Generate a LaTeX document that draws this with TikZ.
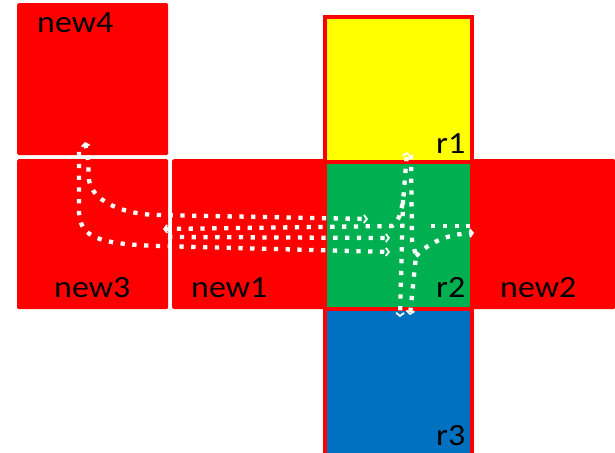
\documentclass[tikz,border=0pt]{standalone}
\usepackage{fontspec}
\setmainfont{Carlito}
\usetikzlibrary{arrows.meta}
\definecolor{cred}{RGB}{255,0,0}
\definecolor{cyel}{RGB}{255,255,0}
\definecolor{cgrn}{RGB}{0,176,80}
\definecolor{cblu}{RGB}{0,112,192}
\tikzset{
  redbox/.style={draw=none,fill=cred,rounded corners=1.5bp,inner sep=0pt,anchor=north west},
  rbox/.style={draw=cred,line width=4bp,inner sep=0pt,anchor=north west},
  lbl/.style={inner sep=0pt,anchor=base west,font=\fontsize{31}{31}\selectfont},
  route/.style={draw=white,line width=4.3bp,dash pattern=on 4.3bp off 7.5bp},
  tip/.style={-{Straight Barb[length=3bp,width=8bp,line width=1.8bp]}},
  tipb/.style={{Straight Barb[length=3bp,width=8bp,line width=1.8bp]}-{Straight Barb[length=3bp,width=8bp,line width=1.8bp]}},
}
\newcommand{\wide}[1]{\scalebox{1.1}[1]{#1}}
\begin{document}
\begin{tikzpicture}[x=1bp,y=-1bp]
\useasboundingbox (0,0) rectangle (615,453);
% red squares
\node[redbox,minimum width=151bp,minimum height=152bp] (new4) at (17,3) {};
\node[redbox,minimum width=151bp,minimum height=150bp] (new3) at (17,159) {};
\node[redbox,minimum width=152bp,minimum height=150bp] (new1) at (172,159) {};
\node[redbox,minimum width=145bp,minimum height=150bp] (new2) at (470,159) {};
% column
\node[rbox,fill=cyel,minimum width=147bp,minimum height=145.5bp] (r1) at (323,15) {};
\node[rbox,fill=cgrn,minimum width=147bp,minimum height=146bp] (r2) at (323,160.5) {};
\node[rbox,fill=cblu,minimum width=147bp,minimum height=146.5bp] (r3) at (323,306.5) {};
% labels
\node[lbl] (t4) at (37,33) {\wide{new4}};
\node[lbl] (t3) at (54,298) {\wide{new3}};
\node[lbl] (t1) at (191,298) {\wide{new1}};
\node[lbl] (t2) at (500,298) {\wide{new2}};
\node[lbl] (tr1) at (436,154) {\wide{r1}};
\node[lbl] (tr2) at (436,298) {\wide{r2}};
\node[lbl] (tr3) at (436,445) {\wide{r3}};
% route end points
\coordinate (a0) at (85,142);
\coordinate (a1) at (368,219);
\coordinate (b0) at (79,152);
\coordinate (b1) at (390,252);
\coordinate (c0) at (163,229);
\coordinate (c1) at (407,152);
\coordinate (d0) at (168,237);
\coordinate (d1) at (390,238);
\coordinate (e0) at (403,200);
\coordinate (e1) at (400,317);
\coordinate (f0) at (411,155);
\coordinate (f1) at (410,315);
\coordinate (g0) at (416,256);
\coordinate (g1) at (474,233);
\coordinate (h0) at (431,226);
\coordinate (h1) at (470,226);
% routes
\draw[route,tipb] (a0) -- (88,160) -- (89,180) .. controls (92,200) and (120,214) .. (157,215) -- (a1);
\draw[route,tip] (b0) -- (79,212) .. controls (80,238) and (100,244) .. (158,246) -- (b1);
\draw[route,tipb] (c0) -- (392,226) .. controls (400,222) and (403,205) .. (404,190) -- (c1);
\draw[route,tip] (d0) -- (d1);
\draw[route,tip] (e0) -- (402,240) -- (e1);
\draw[route,tip] (f0) -- (412,240) -- (g0) -- (f1);
\draw[route,tip] (g0) .. controls (428,244) and (445,234) .. (g1);
\draw[route] (h0) -- (h1);
\end{tikzpicture}
\end{document}
